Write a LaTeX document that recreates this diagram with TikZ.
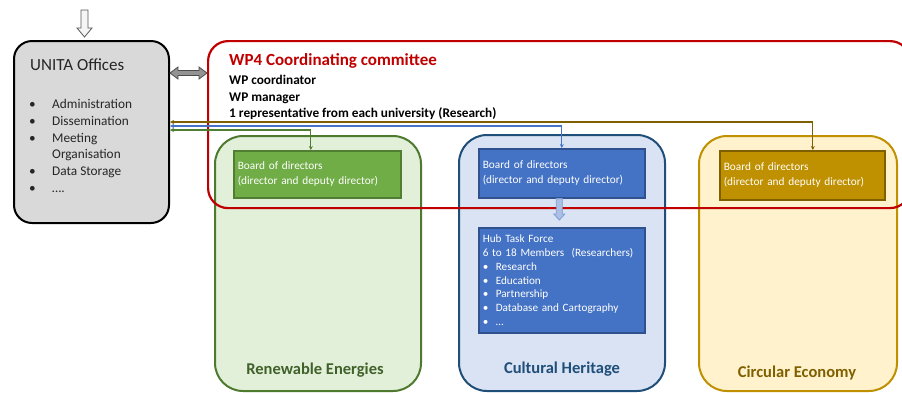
\documentclass[tikz,border=0pt]{standalone}
\usepackage{fontspec}
\setmainfont{Carlito}
\usetikzlibrary{arrows.meta,calc}
\definecolor{wpred}{HTML}{C00000}
\definecolor{ghubf}{HTML}{E2F0D9}
\definecolor{ghubd}{HTML}{4E7A2F}
\definecolor{gbf}{HTML}{70AD47}
\definecolor{gbd}{HTML}{507E32}
\definecolor{bhubf}{HTML}{DAE3F3}
\definecolor{bhubd}{HTML}{1F4E79}
\definecolor{bbf}{HTML}{4472C4}
\definecolor{bbd}{HTML}{2F528F}
\definecolor{yhubf}{HTML}{FFF2CC}
\definecolor{yhubd}{HTML}{BF9000}
\definecolor{ybf}{HTML}{BF9000}
\definecolor{ybd}{HTML}{7F6000}
\definecolor{gtxt}{HTML}{41612A}
\definecolor{btxt}{HTML}{1F4E79}
\definecolor{ytxt}{HTML}{7F6000}
\definecolor{boxgray}{HTML}{D9D9D9}
\tikzset{
  hubbox/.style={rounded corners=28pt, line width=2pt, anchor=north west, inner sep=0pt},
  boardbox/.style={line width=1.6pt, anchor=north west, inner xsep=4pt, inner ysep=0pt, align=left, text=white,
     font=\fontsize{11.3}{15}\selectfont},
  hublabel/.style={font=\bfseries\fontsize{16.5}{18}\selectfont},
  conn/.style={line width=1.3pt, {Stealth[length=4pt,width=4pt]}-{Stealth[length=4pt,width=4pt]}},
}
\begin{document}
\begin{tikzpicture}[x=1pt,y=-1pt]
\useasboundingbox (0,0) rectangle (902,392);
\clip (0,0) rectangle (902,392);
% hubs
\node[hubbox, draw=ghubd, fill=ghubf, minimum width=206pt, minimum height=255pt] (ghub) at (214,135) {};
\node[hubbox, draw=bhubd, fill=bhubf, minimum width=206pt, minimum height=256pt] (bhub) at (458,134) {};
\node[hubbox, draw=yhubd, fill=yhubf, minimum width=198pt, minimum height=255pt] (yhub) at (698,135) {};
% boards
\node[boardbox, draw=gbd, fill=gbf, minimum height=47pt, text width=159pt] (gboard) at (233,150)
  {Board of directors\\(director and deputy director)};
\node[boardbox, draw=bbd, fill=bbf, minimum height=49pt, text width=158pt] (bboard) at (478,148)
  {Board of directors\\(director and deputy director)};
\node[boardbox, draw=ybd, fill=ybf, minimum height=49pt, text width=157pt] (yboard) at (719,150)
  {Board of directors\\(director and deputy director)};
\node[boardbox, draw=bbd, fill=bbf, minimum height=105pt, text width=158pt, font=\fontsize{11.2}{13.8}\selectfont] (task) at (478,227)
  {Hub Task Force\\6 to 18 Members\ \ (Researchers)\\
   \makebox[13pt][l]{\textbullet}Research\\
   \makebox[13pt][l]{\textbullet}Education\\
   \makebox[13pt][l]{\textbullet}Partnership\\
   \makebox[13pt][l]{\textbullet}Database and Cartography\\
   \makebox[13pt][l]{\textbullet}\ldots};
% hub labels
\node[hublabel, text=gtxt] (glab) at (315,370) {Renewable Energies};
\node[hublabel, text=btxt] (blab) at (562,369) {Cultural Heritage};
\node[hublabel, text=ytxt] (ylab) at (797,373) {Circular Economy};
% UNITA box
\node[rounded corners=18pt, line width=2pt, draw=black, fill=boxgray, anchor=north west, inner sep=0pt,
      minimum width=155pt, minimum height=182pt] (unita) at (13,40) {};
\node[anchor=west, inner sep=0pt, font=\fontsize{17}{20}\selectfont, text=black!85] (utitle) at (30,65) {UNITA Offices};
\node[anchor=north west, inner sep=0pt, font=\fontsize{13.3}{16.8}\selectfont, text=black!85] (ulist) at (29,96.5)
  {\begin{tabular}{@{}p{23pt}@{}l@{}}
   \textbullet & Administration\\
   \textbullet & Dissemination\\
   \textbullet & Meeting\\
               & Organisation\\
   \textbullet & Data Storage\\
   \textbullet & \ldots.
   \end{tabular}};
% red committee box
\node[rounded corners=20pt, line width=2.2pt, draw=wpred, anchor=north west, inner sep=0pt,
      minimum width=702pt, minimum height=167pt] (wp4) at (207,40) {};
\node[anchor=west, inner sep=0pt, text=wpred, font=\bfseries\fontsize{17}{20}\selectfont] (wptitle) at (229,61) {WP4 Coordinating committee};
\node[anchor=north west, inner sep=0pt, align=left, font=\bfseries\fontsize{13.3}{16.7}\selectfont] (wplist) at (229,75)
  {WP coordinator\\WP manager\\1 representative from each university (Research)};
% connectors
\draw[conn, draw=ybd] (unita.east |- 0,122) -| ([xshift=10.5pt]yboard.north);
\draw[conn, draw=bbf] (unita.east |- 0,126) -| (bboard.north);
\draw[conn, draw=gbd] (unita.east |- 0,130) -| ([xshift=-6.5pt]gboard.north);
% grey double arrow
\coordinate (da1) at (unita.east |- 0,73);
\coordinate (da2) at (wp4.west |- 0,73);
\draw[fill=gray!85, draw=gray!60!black, line width=0.8pt]
  (da1) -- ($(da1)+(8,-6)$) -- ($(da1)+(8,-2.5)$) -- ($(da2)+(-8,-2.5)$) -- ($(da2)+(-8,-6)$) -- (da2)
  -- ($(da2)+(-8,6)$) -- ($(da2)+(-8,2.5)$) -- ($(da1)+(8,2.5)$) -- ($(da1)+(8,6)$) -- cycle;
% top hollow arrow
\coordinate (ta) at ($(unita.north west)+(71.5,-3)$);
\draw[fill=gray!8, draw=gray!70!black, line width=0.8pt]
  (ta) -- ++(-7.5,-9) -- ++(4,0) -- ++(0,-18) -- ++(7,0) -- ++(0,18) -- ++(4,0) -- cycle;
% board to task force hollow arrow
\coordinate (tb) at ($(task.north)+(-2.5,-7)$);
\draw[fill=bbf!45, draw=bbf!70, line width=0.8pt]
  (tb) -- ++(-5.5,-6) -- ++(2.5,0) -- ($(bboard.south)+(-5.5,0)$) -- ($(bboard.south)+(0.5,0)$) -- ($(tb)+(3,-6)$) -- ++(2.5,0) -- cycle;
\end{tikzpicture}
\end{document}
